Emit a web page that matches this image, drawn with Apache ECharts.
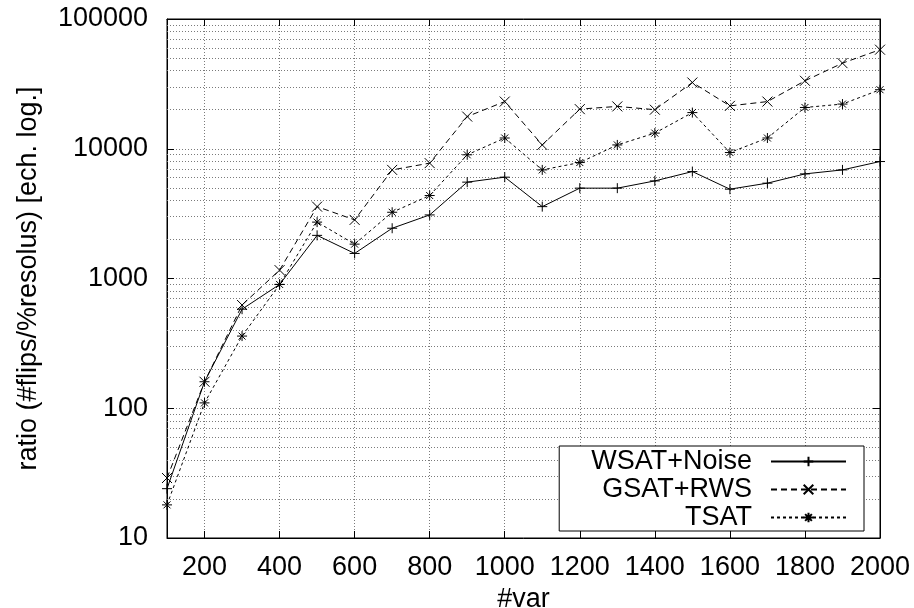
<!DOCTYPE html>
<html>
<head>
<meta charset="utf-8">
<script src="https://cdn.jsdelivr.net/npm/echarts@6/dist/echarts.min.js"></script>
<style>
html, body { margin: 0; padding: 0; background: #fff; }
#chart { width: 914px; height: 608px; }
</style>
</head>
<body>
<div id="chart"></div>
<script>
// x values (#var)
const vars = [100, 200, 300, 400, 500, 600, 700, 800, 900, 1000,
              1100, 1200, 1300, 1400, 1500, 1600, 1700, 1800, 1900, 2000];

// ratio (#flips/%resolus)
const wsatNoise = [24, 160, 580, 900, 2150, 1560, 2440, 3090, 5530, 6040,
                   3580, 4970, 4970, 5650, 6670, 4880, 5430, 6400, 6870, 7970];
const gsatRws = [29, 160, 625, 1160, 3580, 2830, 6870, 7750, 17700, 23100,
                 10700, 20200, 21200, 20000, 32400, 21400, 23100, 33400, 45700, 58000];
const tsat = [18, 110, 360, 900, 2720, 1840, 3240, 4360, 8980, 12100,
              6870, 7830, 10700, 13200, 19000, 9350, 12100, 20800, 22100, 28500];

const seriesNames = ['WSAT+Noise', 'GSAT+RWS', 'TSAT'];

const FONT = 'Liberation Sans, Arial, Helvetica, sans-serif';
const FS = 27;
const PLUS = 'path://M0,5L10,5M5,0L5,10';
const CROSS = 'path://M0,0L10,10M10,0L0,10';
const STAR = 'path://M0,5L10,5M5,0L5,10M1.5,1.5L8.5,8.5M8.5,1.5L1.5,8.5';

// minor log grid lines (2..9 of each decade)
var minorGrid = [];
for (var d = 10; d < 100000; d *= 10) {
    for (var m = 2; m <= 9; m++) minorGrid.push({ yAxis: m * d });
}

var gridLine = { color: '#7a7a7a', width: 1, type: [1, 2] };
var plain = function(v) { return String(v); };

var makeSeries = function(name, values, symbol, dash) {
    return {
        name: name,
        type: 'line',
        data: vars.map(function(x, i) { return [x, values[i]]; }),
        symbol: symbol,
        symbolSize: 10,
        showSymbol: true,
        lineStyle: { color: '#000', width: 1, type: dash },
        itemStyle: { color: '#000', borderColor: '#000', borderWidth: 1 },
        emphasis: { disabled: true },
        z: 5
    };
};

var series = [
    makeSeries(seriesNames[0], wsatNoise, PLUS, 'solid'),
    makeSeries(seriesNames[1], gsatRws, CROSS, [6, 4]),
    makeSeries(seriesNames[2], tsat, STAR, [3, 3])
];
series[0].markLine = {
    silent: true,
    symbol: 'none',
    label: { show: false },
    lineStyle: gridLine,
    data: minorGrid,
    z: 1
};

var chart = echarts.init(document.getElementById('chart'));

var option = {
    animation: false,
    backgroundColor: '#fff',
    textStyle: { fontFamily: FONT, color: '#000' },
    grid: {
        left: 167, right: 34, top: 19, bottom: 70,
        outerBoundsMode: 'none',
        containLabel: false,
        show: true, borderColor: '#000', borderWidth: 1,
        backgroundColor: 'transparent'
    },
    legend: {
        data: seriesNames,
        orient: 'vertical',
        align: 'right',
        right: 50,
        top: 446,
        padding: [2, 17, 0, 32],
        itemGap: 1,
        itemWidth: 75,
        itemHeight: 12,
        backgroundColor: '#fff',
        borderColor: '#000',
        borderWidth: 1,
        borderRadius: 0,
        selectedMode: false,
        textStyle: {
            fontFamily: FONT, fontSize: FS, color: '#000',
            padding: [0, 14, 0, 0]
        }
    },
    xAxis: [{
        type: 'value',
        min: 100, max: 2000,
        splitNumber: 10,
        name: '#var',
        nameLocation: 'middle',
        nameGap: 43,
        nameTextStyle: { fontFamily: FONT, fontSize: FS, color: '#000' },
        axisLine: { show: true, lineStyle: { color: '#000', width: 1 } },
        axisTick: { show: true, inside: true, length: 7, lineStyle: { color: '#000' } },
        axisLabel: { showMinLabel: false, margin: 16, formatter: plain,
                     fontFamily: FONT, fontSize: FS, color: '#000' },
        splitLine: { show: true, lineStyle: gridLine }
    }, {
        type: 'value',
        position: 'top',
        min: 100, max: 2000,
        splitNumber: 10,
        axisLine: { show: true, lineStyle: { color: '#000', width: 1 } },
        axisTick: { show: true, inside: true, length: 7, lineStyle: { color: '#000' } },
        axisLabel: { show: false },
        splitLine: { show: false }
    }],
    yAxis: [{
        type: 'log',
        logBase: 10,
        min: 10, max: 100000,
        name: 'ratio (#flips/%resolus) [ech. log.]',
        nameLocation: 'middle',
        nameGap: 125,
        nameTextStyle: { fontFamily: FONT, fontSize: FS, color: '#000' },
        axisLine: { show: true, lineStyle: { color: '#000', width: 1 } },
        axisTick: { show: true, inside: true, length: 7, lineStyle: { color: '#000' } },
        axisLabel: { margin: 19, formatter: plain, fontFamily: FONT, fontSize: FS, color: '#000' },
        splitLine: { show: true, lineStyle: gridLine }
    }, {
        type: 'log',
        logBase: 10,
        position: 'right',
        min: 10, max: 100000,
        axisLine: { show: true, lineStyle: { color: '#000', width: 1 } },
        axisTick: { show: true, inside: true, length: 7, lineStyle: { color: '#000' } },
        axisLabel: { show: false },
        splitLine: { show: false }
    }],
    series: series
};

chart.setOption(option);
</script>
</body>
</html>
